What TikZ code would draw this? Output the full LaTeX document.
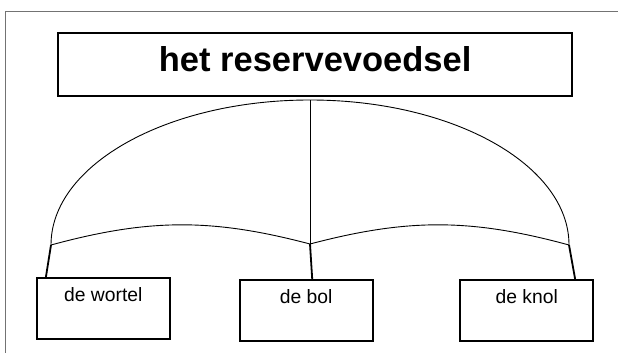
\documentclass[tikz,border=0pt]{standalone}
\usepackage{fontspec}
\setmainfont{Liberation Sans}
\usetikzlibrary{calc}
\tikzset{
% Two box styles: the title on top and the three parts below
title box/.style={draw,line width=1.8pt,minimum width=513.7pt,minimum height=62.4pt,inner sep=0pt,
  text height=24pt,text depth=9.6pt,font=\fontsize{34.5}{36}\selectfont\bfseries},
part box/.style={draw,line width=1.8pt,minimum width=133pt,minimum height=61pt,inner sep=0pt,
  text height=13pt,text depth=27pt,font=\fontsize{19.3}{21}\selectfont},
thin line/.style={line width=0.9pt},
thick line/.style={line width=1.8pt}
}

\begin{document}
\begin{tikzpicture}[x=1pt,y=-1pt]
        \useasboundingbox (0,0) rectangle (618,353);
        % Frame round the page
        \draw[line width=0.8pt,black!55] (5.7,353) -- (5.7,11) -- (618,11);
        % The boxes
        \node(title)[title box] at (315.2,64.5) {het reservevoedsel};
        \node(wortel)[part box] at (103.3,308.5) {de wortel};
        \node(bol)[part box] at (306.2,310.3) {de bol};
        \node(knol)[part box] at (526.7,310.3) {de knol};
        % Points where the arcs meet
        \coordinate (jl) at (51,245);
        \coordinate (jm) at (310,244);
        \coordinate (jr) at (569,245);
        \coordinate (top) at (310,100);
        % The arcs
        \draw[thin line] (jl) arc[start angle=180,end angle=0,x radius=259pt,y radius=145pt];
        \draw[thin line] (jl) to[bend left=15] (jm) to[bend left=15] (jr);
        \draw[thin line] (top) -- (jm);
        % Connectors to the boxes
        \draw[thick line] (jl) -- ($(wortel.north west)+(10,0)$);
        \draw[thick line] (jm) -- ($(bol.north)+(6,0)$);
        \draw[thick line] (jr) -- ($(knol.north east)+(-19,0)$);
\end{tikzpicture}
\end{document}
